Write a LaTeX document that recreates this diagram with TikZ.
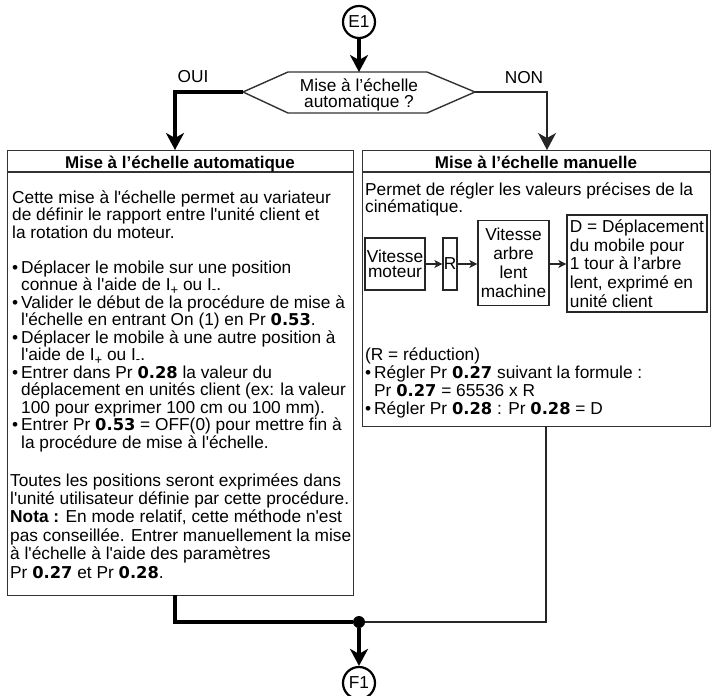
\documentclass[tikz,border=0pt]{standalone}
\usepackage{fontspec}
\setmainfont{Liberation Sans}[Ligatures=TeXOff]
\newfontfamily\numfont{DejaVu Sans}
\usetikzlibrary{arrows.meta}
\newcommand\bodyfont{\fontsize{17.3}{17.5}\selectfont}
\newcommand\tline[1]{\hbox{#1}}
\newcommand\bul[1]{\hbox{\hbox to 9pt{•\hss}#1}}
\newcommand\cont[1]{\hbox{\hskip 9pt #1}}
\newcommand\nb[1]{{\numfont\bfseries\fontsize{16.3}{17}\selectfont #1}}
\newcommand\Iplus{I\raisebox{-3.5pt}{\fontsize{13}{13}\selectfont +}}
\newcommand\Iminus{I\raisebox{-3pt}{\fontsize{13}{13}\selectfont -}}
\newcommand\tb[2]{\vtop{\baselineskip=#1\lineskiplimit=-100pt\lineskip=0pt #2}}
\begin{document}
\begin{tikzpicture}[x=1pt,y=-1pt,
  font=\bodyfont,
  frame/.style={draw=black!80, line width=1.4pt},
  thickc/.style={line width=4pt, draw=black},
  thinc/.style={line width=1.3pt, draw=black!85},
  bigtip/.style={-{Stealth[length=17pt,width=18pt,inset=5pt]}},
  smalltip/.style={-{Stealth[length=8pt,width=8pt,inset=2pt]}},
  txt/.style={inner sep=0pt, anchor=base west},
  conn/.style={circle, draw, line width=2.2pt, minimum size=32pt, inner sep=0pt},
  ibox/.style={draw=black!85, line width=1.2pt, inner sep=0pt, align=center},
]
\useasboundingbox (0,0) rectangle (713,696);

% start connector and decision
\node[conn] (E1) at (359,22) {E1};
\coordinate (hL) at (243,92);
\coordinate (hR) at (475,92);
\coordinate (hT) at (359,72);
\draw[frame] (hL) -- (288,72) -- (427,72) -- (hR) -- (427,113) -- (288,113) -- cycle;
\node[align=center, inner sep=0pt, font=\fontsize{17.3}{16.5}\selectfont] (Q) at (359,95) {Mise à l’échelle\\automatique ?};
\draw[thickc, bigtip] (E1) -- (hT);

% boxes
\node[frame, anchor=north west, minimum width=346pt, minimum height=445pt, inner sep=0pt] (A) at (7,150) {};
\node[frame, anchor=north west, minimum width=348pt, minimum height=276pt, inner sep=0pt] (B) at (362,150) {};
\draw[frame] (7,172) -- (353,172);
\draw[frame] (362,172) -- (710,172);
\node[font=\fontsize{17}{17}\selectfont\bfseries, anchor=base, inner sep=0pt] (At) at (180,168) {Mise à l’échelle automatique};
\node[font=\fontsize{17}{17}\selectfont\bfseries, anchor=base, inner sep=0pt] (Bt) at (536,168) {Mise à l’échelle manuelle};

% branch connectors
\coordinate (Ain) at (175,150);
\coordinate (Bin) at (547,150);
\draw[thickc, bigtip] (hL) -| (Ain);
\draw[thinc, bigtip] (hR) -| (Bin);
\node[inner sep=0pt] (oui) at (193,77) {OUI};
\node[inner sep=0pt] (non) at (524,78) {NON};

% left box text
\node[txt] (a1) at (12,203) {\tb{17.5pt}{%
\tline{Cette mise à l'échelle permet au variateur}%
\tline{de définir le rapport entre l'unité client et}%
\tline{la rotation du moteur.}}};
\node[txt] (a2) at (12,273) {\tb{17.5pt}{%
\bul{Déplacer le mobile sur une position}%
\cont{connue à l'aide de \Iplus{} ou \Iminus.}%
\bul{Valider le début de la procédure de mise à}%
\cont{l'échelle en entrant On (1) en Pr \nb{0.53}.}%
\bul{Déplacer le mobile à une autre position à}%
\cont{l'aide de \Iplus{} ou \Iminus.}%
\bul{Entrer dans Pr \nb{0.28} la valeur du}%
\cont{déplacement en unités client (ex: la valeur}%
\cont{100 pour exprimer 100 cm ou 100 mm).}%
\bul{Entrer Pr \nb{0.53} = OFF(0) pour mettre fin à}%
\cont{la procédure de mise à l'échelle.}}};
\node[txt] (a3) at (10,486) {\tb{18.4pt}{%
\tline{Toutes les positions seront exprimées dans}%
\tline{l'unité utilisateur définie par cette procédure.}%
\tline{\textbf{Nota :} En mode relatif, cette méthode n'est}%
\tline{pas conseillée. Entrer manuellement la mise}%
\tline{à l'échelle à l'aide des paramètres}%
\tline{Pr \nb{0.27} et Pr \nb{0.28}.}}};

% right box text
\node[txt] (b1) at (365,195) {\tb{17pt}{%
\tline{Permet de régler les valeurs précises de la}%
\tline{cinématique.}}};
\node[txt] (b2) at (365,360) {\tb{18pt}{%
\tline{(R = réduction)}%
\bul{Régler Pr \nb{0.27} suivant la formule :}%
\cont{Pr \nb{0.27} = 65536 x R}%
\bul{Régler Pr \nb{0.28} : Pr \nb{0.28} = D}}};

% kinematic chain
\node[ibox, minimum width=60pt, minimum height=52pt, font=\fontsize{17.3}{15}\selectfont] (mot) at (395,264) {Vitesse\\moteur};
\node[ibox, minimum width=14pt, minimum height=52pt] (R) at (450,264) {R};
\node[ibox, minimum width=71pt, minimum height=85pt, font=\fontsize{17.3}{19}\selectfont] (arb) at (513.5,263) {Vitesse\\arbre\\lent\\machine};
\node[ibox, minimum width=140pt, minimum height=97pt, align=left, font=\fontsize{17.3}{18.7}\selectfont] (D) at (637,263.5) {D = Déplacement\\du mobile pour\\1 tour à l’arbre\\lent, exprimé en\\unité client};
\draw[thinc, smalltip] (mot.east) -- (R.west);
\draw[thinc, smalltip] (R.east) -- (R.east -| arb.west);
\draw[thinc, smalltip] (R.east -| arb.east) -- (R.east -| D.west);

% merge
\coordinate (Aout) at (175,595);
\coordinate (Bout) at (546,426);
\node[circle, fill=black, inner sep=0pt, minimum size=12pt] (J) at (359,622) {};
\draw[thinc] (Bout) |- (J);
\draw[thickc] (Aout) |- (J);
\node[conn] (F1) at (359,683) {F1};
\draw[thickc, bigtip] (J) -- (F1);
\end{tikzpicture}
\end{document}
